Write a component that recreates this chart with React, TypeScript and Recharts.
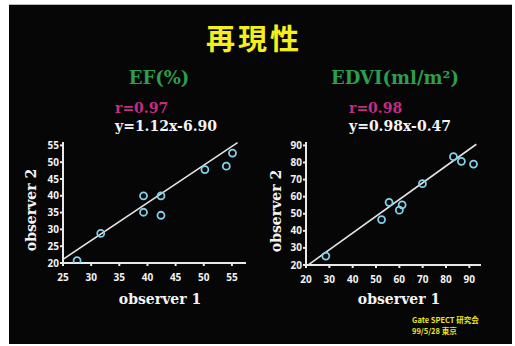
import React from "react";
import { ScatterChart, Scatter, XAxis, YAxis, ReferenceLine } from "recharts";

// EF (%) — observer 1 vs observer 2
const efObserver1 = [27.5, 31.7, 39.3, 39.3, 42.4, 42.4, 50.2, 54.0, 55.1];
const efObserver2 = [20.7, 28.8, 40.0, 35.1, 40.0, 34.2, 47.8, 48.8, 52.7];
const efXTicks = [25, 30, 35, 40, 45, 50, 55];
const efYTicks = [20, 25, 30, 35, 40, 45, 50, 55];
const efSlope = 1.12;
const efIntercept = -6.9;
const efR = "0.97";

// EDVI (ml/m²) — observer 1 vs observer 2
const edviObserver1 = [28.5, 52.4, 55.6, 60.0, 61.2, 69.9, 83.2, 86.6, 91.8];
const edviObserver2 = [25.2, 46.6, 56.7, 52.1, 55.2, 67.6, 83.4, 80.7, 79.1];
const edviXTicks = [20, 30, 40, 50, 60, 70, 80, 90];
const edviYTicks = [20, 30, 40, 50, 60, 70, 80, 90];
const edviSlope = 0.98;
const edviIntercept = -0.47;
const edviR = "0.98";

// Footer credit lines
const footerLines = ["Gate SPECT 研究会", "99/5/28 東京"];

const toPoints = (xs: number[], ys: number[]) => xs.map((x, i) => ({ x, y: ys[i] }));
const fitAt = (slope: number, intercept: number, x: number) => ({ x, y: slope * x + intercept });
const fmt = (v: number) => (v < 0 ? `-${Math.abs(v).toFixed(2)}` : `+${v.toFixed(2)}`);

const AXIS = "#e9e9e9";
const DOT = "#82d2ea";
const SERIF = "'DejaVu Serif', serif";
const SANS = "'Open Sans', sans-serif";
const CJK = "'Noto Sans CJK JP', sans-serif";

const tickStyle = { fill: "#f2f2f2", fontSize: 10, fontWeight: 700, fontFamily: SANS };

const RingDot = (props: any) => {
  const { cx, cy } = props;
  if (cx == null || cy == null) return null;
  return <circle cx={cx} cy={cy} r={3.5} fill="none" stroke={DOT} strokeWidth={1.8} />;
};

type PanelProps = {
  left: number;
  top: number;
  width: number;
  height: number;
  margin: { top: number; right: number; bottom: number; left: number };
  xs: number[];
  ys: number[];
  xDomain: [number, number];
  yDomain: [number, number];
  xTicks: number[];
  yTicks: number[];
  slope: number;
  intercept: number;
  lineFrom: number;
  lineTo: number;
};

const Panel = (p: PanelProps) => (
  <div style={{ position: "absolute", left: p.left, top: p.top }}>
    <ScatterChart width={p.width} height={p.height} margin={p.margin}>
      <XAxis
        type="number"
        dataKey="x"
        domain={p.xDomain}
        ticks={p.xTicks}
        allowDataOverflow
        height={30}
        stroke={AXIS}
        strokeWidth={2}
        tickSize={3}
        tickMargin={8}
        tick={tickStyle}
        interval={0}
      />
      <YAxis
        type="number"
        dataKey="y"
        domain={p.yDomain}
        ticks={p.yTicks}
        allowDataOverflow
        width={30}
        stroke={AXIS}
        strokeWidth={2}
        tickSize={3}
        tickMargin={1}
        tick={tickStyle}
        interval={0}
      />
      <ReferenceLine
        segment={[fitAt(p.slope, p.intercept, p.lineFrom), fitAt(p.slope, p.intercept, p.lineTo)]}
        stroke="#e4e4e4"
        strokeWidth={1.6}
        ifOverflow="visible"
      />
      <Scatter data={toPoints(p.xs, p.ys)} shape={<RingDot />} isAnimationActive={false} />
    </ScatterChart>
  </div>
);

const Txt = ({ style, children }: { style: React.CSSProperties; children: React.ReactNode }) => (
  <div style={{ position: "absolute", lineHeight: 1, whiteSpace: "nowrap", ...style }}>{children}</div>
);

export default function App() {
  return (
    <div style={{ position: "absolute", left: 0, top: 0, width: 515, height: 346, background: "#ffffff", overflow: "hidden" }}>
      <div
        style={{
          position: "absolute",
          left: 9,
          top: 4,
          width: 503,
          height: 339,
          background: "#060607",
          borderTop: "1px solid #bdbdbd",
        }}
      />

      <Txt style={{ left: 254, top: 23, transform: "translateX(-50%)", color: "#f4ee1c", fontSize: 29, fontWeight: 700, letterSpacing: 3, fontFamily: CJK }}>
        再現性
      </Txt>

      <Txt style={{ left: 159, top: 69, transform: "translateX(-50%)", color: "#2c9e4c", fontSize: 18, fontWeight: 700, fontFamily: SERIF }}>
        EF(%)
      </Txt>
      <Txt style={{ left: 395, top: 69, transform: "translateX(-50%)", color: "#2c9e4c", fontSize: 18, fontWeight: 700, fontFamily: SERIF }}>
        EDVI(ml/m²)
      </Txt>

      <Txt style={{ left: 115, top: 101, color: "#c42d83", fontSize: 14, fontWeight: 700, fontFamily: SERIF }}>
        r={efR}
      </Txt>
      <Txt style={{ left: 115, top: 119, color: "#f4f4f4", fontSize: 14, fontWeight: 700, fontFamily: SERIF }}>
        y={efSlope.toFixed(2)}x{fmt(efIntercept)}
      </Txt>
      <Txt style={{ left: 349, top: 101, color: "#c42d83", fontSize: 14, fontWeight: 700, fontFamily: SERIF }}>
        r={edviR}
      </Txt>
      <Txt style={{ left: 349, top: 119, color: "#f4f4f4", fontSize: 14, fontWeight: 700, fontFamily: SERIF }}>
        y={edviSlope.toFixed(2)}x{fmt(edviIntercept)}
      </Txt>

      <Panel
        left={20}
        top={130}
        width={240}
        height={163}
        margin={{ top: 12, right: 14, bottom: 0, left: 13 }}
        xs={efObserver1}
        ys={efObserver2}
        xDomain={[25, 57.5]}
        yDomain={[20, 56]}
        xTicks={efXTicks}
        yTicks={efYTicks}
        slope={efSlope}
        intercept={efIntercept}
        lineFrom={25}
        lineTo={56}
      />
      <Panel
        left={270}
        top={130}
        width={230}
        height={165}
        margin={{ top: 12, right: 19, bottom: 0, left: 6 }}
        xs={edviObserver1}
        ys={edviObserver2}
        xDomain={[20, 95]}
        yDomain={[20, 92]}
        xTicks={edviXTicks}
        yTicks={edviYTicks}
        slope={edviSlope}
        intercept={edviIntercept}
        lineFrom={21}
        lineTo={93}
      />

      <Txt style={{ left: 160, top: 292, transform: "translateX(-50%)", color: "#f4f4f4", fontSize: 14, fontWeight: 700, fontFamily: SERIF }}>
        observer 1
      </Txt>
      <Txt style={{ left: 399, top: 292, transform: "translateX(-50%)", color: "#f4f4f4", fontSize: 14, fontWeight: 700, fontFamily: SERIF }}>
        observer 1
      </Txt>
      <Txt style={{ left: 31, top: 210, transform: "translate(-50%, -50%) rotate(-90deg)", color: "#f4f4f4", fontSize: 14, fontWeight: 700, fontFamily: SERIF }}>
        observer 2
      </Txt>
      <Txt style={{ left: 276, top: 211, transform: "translate(-50%, -50%) rotate(-90deg)", color: "#f4f4f4", fontSize: 14, fontWeight: 700, fontFamily: SERIF }}>
        observer 2
      </Txt>

      <Txt style={{ left: 412, top: 314, color: "#f0e41c", fontSize: 7.5, lineHeight: "11px", fontWeight: 700, fontFamily: CJK }}>
        {footerLines[0]}
      </Txt>
      <Txt style={{ left: 412, top: 325, color: "#f0e41c", fontSize: 7.5, lineHeight: "11px", fontWeight: 700, fontFamily: CJK }}>
        {footerLines[1]}
      </Txt>
    </div>
  );
}
